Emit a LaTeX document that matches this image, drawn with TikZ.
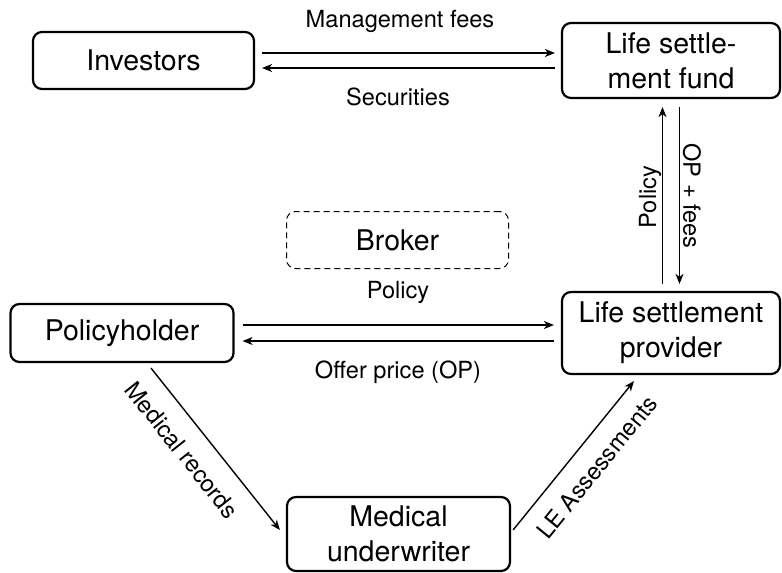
\documentclass[tikz,border=0pt]{standalone}
\usepackage{fontspec}
\setmainfont{TeX Gyre Heros}
\usetikzlibrary{arrows.meta,calc}
\begin{document}
\begin{tikzpicture}[x=1pt,y=-1pt,
  box/.style={draw, line width=2.2pt, rounded corners=9pt, align=center,
    font=\fontsize{28.5}{35}\selectfont, inner sep=0pt},
  dbox/.style={draw, line width=1pt, dash pattern=on 6pt off 4pt, rounded corners=9pt,
    align=center, font=\fontsize{28.5}{35}\selectfont, inner sep=0pt},
  lbl/.style={font=\fontsize{23.6}{28}\selectfont, inner sep=0pt},
  arr/.style={line width=1.4pt, -{Stealth[length=10pt,width=8pt,inset=3pt]}}]
\useasboundingbox (0,0) rectangle (782,573);
\node[box, minimum width=221pt, minimum height=57pt] (inv) at (143.5,60.5) {Investors};
\node[box, minimum width=218pt, minimum height=75pt] (fund) at (671,60.5) {Life settle-\\ment fund};
\node[dbox, minimum width=222pt, minimum height=57pt] (brk) at (397.5,240) {Broker};
\node[box, minimum width=223pt, minimum height=58pt] (ph) at (122,333) {Policyholder};
\node[box, minimum width=218pt, minimum height=82pt] (lsp) at (671,333) {Life settlement\\provider};
\node[box, minimum width=223pt, minimum height=74pt] (mu) at (398.5,534) {Medical\\underwriter};

\draw[arr, shorten <=7pt, shorten >=6pt] ([yshift=7.5pt]inv.east) -- ([yshift=7.5pt]fund.west);
\draw[arr, shorten <=6pt, shorten >=7pt] ([yshift=-7.5pt]fund.west) -- ([yshift=-7.5pt]inv.east);
\draw[arr, shorten <=8pt, shorten >=7pt] ([yshift=8pt]ph.east) -- ([yshift=8pt]lsp.west);
\draw[arr, shorten <=7pt, shorten >=8pt] ([yshift=-8pt]lsp.west) -- ([yshift=-8pt]ph.east);
\draw[arr, shorten <=7pt, shorten >=8pt] ([xshift=-8.5pt]lsp.north) -- ([xshift=-8.5pt]fund.south);
\draw[arr, shorten <=8pt, shorten >=7pt] ([xshift=8.5pt]fund.south) -- ([xshift=8.5pt]lsp.north);
\draw[arr] ($(ph.south)+(29,5)$) -- ($(mu.west)+(-6,-4)$);
\draw[arr] ($(mu.east)+(2,-4)$) -- ($(lsp.south)+(-37,6)$);

\node[lbl, anchor=base] (lmf) at (400,27) {Management fees};
\node[lbl, anchor=base] (lsec) at (398,105) {Securities};
\node[lbl, anchor=base] (lpol) at (398,298) {Policy};
\node[lbl, anchor=base] (lop) at (398,378) {Offer price (OP)};
\node[lbl, rotate=90] (lpol2) at (650,197) {Policy};
\node[lbl, rotate=-90] (lopf) at (692,196) {OP + fees};
\node[lbl, rotate=-51.5] (lmr) at (182,450) {Medical records};
\node[lbl, rotate=51] (lle) at (597,467) {LE Assessments};
\end{tikzpicture}
\end{document}
